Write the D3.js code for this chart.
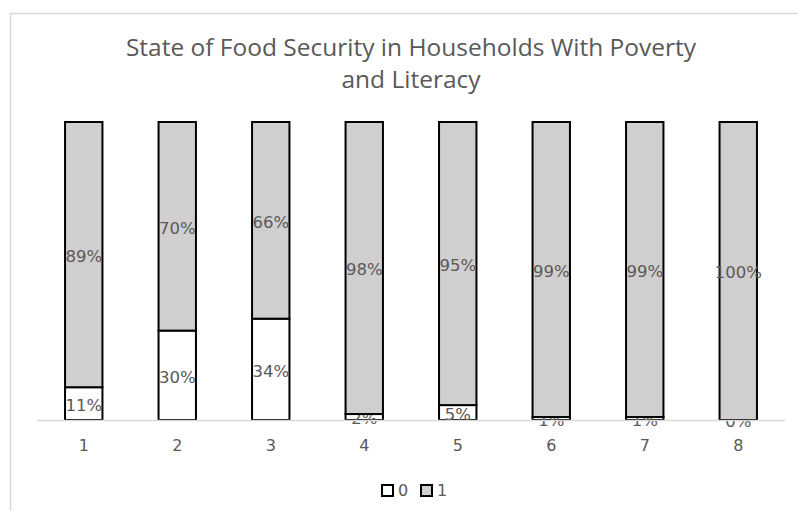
<!DOCTYPE html>
<html>
<head>
<meta charset="utf-8">
<script src="https://cdn.jsdelivr.net/npm/d3@7"></script>
<style>
  body { margin: 0; background: #fff; }
  svg { display: block; }
</style>
</head>
<body>
<div id="chart"></div>
<script>
// categories and the two series (shares in %)
var categories = ["1", "2", "3", "4", "5", "6", "7", "8"];
var series0 = [11, 30, 34, 2, 5, 1, 1, 0];
var series1 = [89, 70, 66, 98, 95, 99, 99, 100];
var seriesNames = ["0", "1"];
var titleLines = ["State of Food Security in Households With Poverty", "and Literacy"];

var width = 798, height = 511;
var margin = {top: 122, right: 13, bottom: 91, left: 37};

var svg = d3.select("#chart").append("svg")
    .attr("width", width)
    .attr("height", height);

// chart area border (runs off the right and bottom edges)
svg.append("rect")
    .attr("x", 10.5).attr("y", 13.5)
    .attr("width", 900).attr("height", 600)
    .attr("fill", "none")
    .attr("stroke", "#d9d9d9")
    .attr("stroke-width", 1.5);

// title
svg.append("text")
    .attr("x", 411).attr("y", 56)
    .attr("text-anchor", "middle")
    .style("font-family", "'Open Sans', sans-serif")
    .style("font-size", "24.5px")
    .style("fill", "#595959")
    .selectAll("tspan")
    .data(titleLines)
    .enter().append("tspan")
    .attr("x", 411)
    .attr("dy", function(d, i) { return i ? 32 : 0; })
    .text(function(d) { return d; });

var rows = categories.map(function(c, i) {
    return {cat: c, "0": series0[i], "1": series1[i]};
});

var stack = d3.stack().keys(seriesNames);
var layers = stack(rows);

var x = d3.scaleBand()
    .domain(categories)
    .range([margin.left, width - margin.right])
    .paddingInner(0.6)
    .paddingOuter(0.3);

var y = d3.scaleLinear()
    .domain([0, 100])
    .range([height - margin.bottom, margin.top]);

var colors = {"0": "#ffffff", "1": "#d0cece"};

var g = svg.append("g");

var layer = g.selectAll(".layer")
    .data(layers)
    .enter().append("g")
    .attr("class", "layer")
    .attr("fill", function(d) { return colors[d.key]; });

layer.selectAll("rect")
    .data(function(d) { return d; })
    .enter().append("rect")
    .attr("x", function(d) { return x(d.data.cat); })
    .attr("width", x.bandwidth())
    .attr("y", function(d) { return y(d[1]); })
    .attr("height", function(d) { return y(d[0]) - y(d[1]); })
    .attr("stroke", "#000")
    .attr("stroke-width", 2);

// x axis line
svg.append("line")
    .attr("x1", margin.left).attr("x2", width - margin.right)
    .attr("y1", y(0) + 0.5).attr("y2", y(0) + 0.5)
    .attr("stroke", "#d9d9d9")
    .attr("stroke-width", 1.5);

// data labels
layer.selectAll(".lbl")
    .data(function(d) { return d; })
    .enter().append("text")
    .attr("class", "lbl")
    .attr("x", function(d) { return x(d.data.cat) + x.bandwidth() / 2; })
    .attr("y", function(d) { return (y(d[0]) + y(d[1])) / 2; })
    .attr("dy", "0.45em")
    .attr("text-anchor", "middle")
    .style("font-family", "'DejaVu Sans', sans-serif")
    .style("font-size", "16.5px")
    .style("fill", "#595959")
    .text(function(d) { return (d[1] - d[0]) + "%"; });

// category labels
var xAxis = d3.axisBottom(x).tickSize(0).tickPadding(0);
var ax = svg.append("g")
    .attr("transform", "translate(0," + (y(0) + 20) + ")")
    .call(xAxis);
ax.select(".domain").remove();
ax.selectAll("text")
    .attr("dy", "0.71em")
    .style("font-family", "'DejaVu Sans', sans-serif")
    .style("font-size", "16px")
    .style("fill", "#595959");

// legend
var legend = svg.append("g").attr("transform", "translate(381,484)");
var item = legend.selectAll("g")
    .data(seriesNames)
    .enter().append("g")
    .attr("transform", function(d, i) { return "translate(" + (i * 39) + ",0)"; });
item.append("rect")
    .attr("x", 1).attr("y", 1)
    .attr("width", 11).attr("height", 11)
    .attr("fill", function(d) { return colors[d]; })
    .attr("stroke", "#000")
    .attr("stroke-width", 2);
item.append("text")
    .attr("x", 17).attr("y", 12)
    .style("font-family", "'DejaVu Sans', sans-serif")
    .style("font-size", "16px")
    .style("fill", "#595959")
    .text(function(d) { return d; });
</script>
</body>
</html>
